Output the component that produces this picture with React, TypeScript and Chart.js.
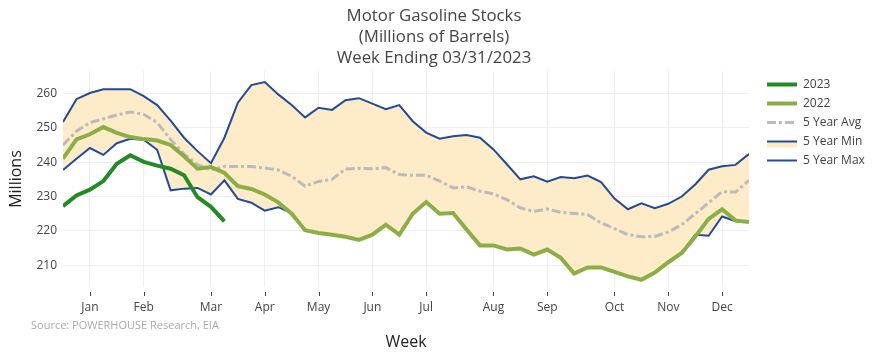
import React, { useEffect, useRef } from "react";
import { Chart, registerables } from "chart.js";
Chart.register(...registerables);

const weeks = [1,2,3,4,5,6,7,8,9,10,11,12,13,14,15,16,17,18,19,20,21,22,23,24,25,26,27,28,29,30,31,32,33,34,35,36,37,38,39,40,41,42,43,44,45,46,47,48,49,50,51,52];
const monthTickWeeks = [3,7,12,16,20,24,28,33,37,42,46,50];
const monthLabels = ["Jan","Feb","Mar","Apr","May","Jun","Jul","Aug","Sep","Oct","Nov","Dec"];
const yTicks = [210,220,230,240,250,260];

const stocks2023 = [227.2,230.3,232.0,234.5,239.5,242.0,240.1,239.0,238.1,236.2,229.8,227.0,222.8];
const stocks2022 = [241.0,246.6,248.1,250.2,248.5,247.3,246.7,246.3,245.0,241.7,238.1,238.6,236.9,233.0,232.2,230.6,228.3,225.0,220.2,219.4,218.9,218.3,217.4,218.9,221.8,218.9,225.0,228.4,225.0,225.2,220.4,215.8,215.8,214.6,214.9,213.1,214.6,212.2,207.6,209.4,209.4,208.1,206.8,205.8,207.9,210.9,213.6,218.3,223.5,226.3,223.0,222.6];
const avg5 = [245.0,249.0,251.5,252.6,253.7,254.6,253.9,251.5,246.6,242.4,239.3,237.7,238.8,238.7,238.7,238.3,237.7,235.9,233.0,234.4,235.0,238.0,238.2,238.1,238.4,236.4,236.2,236.2,234.5,232.5,232.8,231.6,230.8,229.1,226.7,225.7,226.4,225.4,225.1,224.8,222.3,220.7,218.9,218.3,218.4,219.7,221.8,225.0,228.2,231.4,231.3,234.7];
const min5 = [237.7,241.0,244.1,242.1,245.5,246.8,246.5,243.6,231.8,232.3,232.5,230.6,234.7,229.3,228.2,225.9,226.9,225.2,220.2,219.4,218.9,218.3,217.4,218.9,221.8,218.9,225.0,228.4,225.0,225.2,220.4,215.8,215.8,214.6,214.9,213.1,214.6,212.2,207.6,209.4,209.4,208.1,206.8,205.8,207.9,210.9,213.6,218.9,218.6,224.2,222.8,222.6];
const max5 = [251.7,258.3,260.1,261.2,261.2,261.2,259.2,256.6,252.1,247.1,243.2,239.7,247.1,257.3,262.4,263.3,259.7,256.6,253.0,255.8,255.2,258.0,258.6,257.0,255.4,256.6,251.9,248.6,246.8,247.5,247.9,247.1,243.7,239.4,235.0,235.9,234.3,235.7,235.3,236.1,234.2,229.4,226.3,228.0,226.6,227.9,230.0,233.5,237.8,238.8,239.2,242.4];

const titleLines = ["Motor Gasoline Stocks", "(Millions of Barrels)", "Week Ending 03/31/2023"];
const seriesNames = ["2023", "2022", "5 Year Avg", "5 Year Min", "5 Year Max"];

const C2023 = "#228B22";
const C2022 = "#8BAF45";
const CAVG = "#BBBBBB";
const CBLUE = "#224A9A";
const CFILL = "#FEEBC8";
const FONT = "'Open Sans', sans-serif";
const TXT = "#444444";

const pts = (vals: number[]) => vals.map((v, i) => ({ x: weeks[i], y: v }));

const decor = {
  id: "decor",
  afterDraw(chart: any) {
    const ctx = chart.ctx;
    const area = chart.chartArea;
    const xs = chart.scales.x;
    ctx.save();
    ctx.strokeStyle = TXT;
    ctx.lineWidth = 1;
    monthTickWeeks.forEach((w) => {
      const px = Math.round(xs.getPixelForValue(w)) + 0.5;
      ctx.beginPath();
      ctx.moveTo(px, 292);
      ctx.lineTo(px, 296);
      ctx.stroke();
    });
    ctx.fillStyle = TXT;
    ctx.font = `16.8px ${FONT}`;
    ctx.textAlign = "center";
    ctx.textBaseline = "middle";
    titleLines.forEach((t, k) => ctx.fillText(t, 434, 16 + k * 21));
    ctx.font = `16px ${FONT}`;
    ctx.fillStyle = "#222";
    ctx.fillText("Week", (area.left + area.right) / 2, 342);
    ctx.save();
    ctx.translate(16, (area.top + area.bottom) / 2);
    ctx.rotate(-Math.PI / 2);
    ctx.fillText("Millions", 0, 0);
    ctx.restore();
    ctx.fillStyle = "#AAAAAA";
    ctx.font = `11px ${FONT}`;
    ctx.textAlign = "left";
    ctx.fillText("Source: POWERHOUSE Research, EIA", 31, 326);
    const lx = 767, lw = 30, tx = 803;
    const rows = [84.5, 103.5, 122.5, 141.5, 160.5];
    ctx.font = `12px ${FONT}`;
    const styles = [
      { c: C2023, w: 4, d: [] as number[] },
      { c: C2022, w: 4, d: [] as number[] },
      { c: CAVG, w: 3, d: [9, 3, 3, 3] },
      { c: CBLUE, w: 2, d: [] as number[] },
      { c: CBLUE, w: 2, d: [] as number[] },
    ];
    rows.forEach((y, k) => {
      if (k === 3) {
        ctx.fillStyle = CFILL;
        ctx.fillRect(lx, y, lw, 6);
      }
      ctx.strokeStyle = styles[k].c;
      ctx.lineWidth = styles[k].w;
      ctx.setLineDash(styles[k].d);
      ctx.beginPath();
      ctx.moveTo(lx, y);
      ctx.lineTo(lx + lw, y);
      ctx.stroke();
      ctx.setLineDash([]);
      ctx.fillStyle = TXT;
      ctx.fillText(seriesNames[k], tx, y);
    });
    ctx.restore();
  },
};

export default function App() {
  const ref = useRef<HTMLCanvasElement>(null);
  useEffect(() => {
    document.body.style.margin = "0";
    const chart = new Chart(ref.current as HTMLCanvasElement, {
      type: "line",
      data: {
        datasets: [
          { label: seriesNames[0], data: pts(stocks2023), borderColor: C2023, borderWidth: 4, pointRadius: 0, tension: 0, fill: false },
          { label: seriesNames[1], data: pts(stocks2022), borderColor: C2022, borderWidth: 4, pointRadius: 0, tension: 0, fill: false },
          { label: seriesNames[2], data: pts(avg5), borderColor: CAVG, borderWidth: 3, borderDash: [9, 3, 3, 3], pointRadius: 0, tension: 0, fill: false },
          { label: seriesNames[3], data: pts(min5), borderColor: CBLUE, borderWidth: 2, pointRadius: 0, tension: 0, fill: "+1", backgroundColor: CFILL },
          { label: seriesNames[4], data: pts(max5), borderColor: CBLUE, borderWidth: 2, pointRadius: 0, tension: 0, fill: false },
        ],
      },
      options: {
        animation: false,
        responsive: false,
        layout: { padding: { top: 71, right: 124, left: 0, bottom: 0 } },
        plugins: {
          legend: { display: false },
          title: { display: false },
          tooltip: { enabled: false },
          filler: { drawTime: "beforeDatasetsDraw" },
        },
        scales: {
          x: {
            type: "linear",
            min: 1,
            max: 52,
            afterFit: (s: any) => { s.height = 75; },
            afterBuildTicks: (s: any) => { s.ticks = monthTickWeeks.map((v) => ({ value: v })); },
            grid: { color: "#EEEEEE", drawTicks: false },
            border: { display: false },
            ticks: {
              autoSkip: false,
              maxRotation: 0,
              padding: 13,
              color: TXT,
              font: { family: FONT, size: 12 },
              callback: (v: any) => monthLabels[monthTickWeeks.indexOf(Number(v))] ?? "",
            },
          },
          y: {
            type: "linear",
            min: 203.7,
            max: 266.5,
            afterFit: (s: any) => { s.width = 63; },
            afterBuildTicks: (s: any) => { s.ticks = yTicks.map((v) => ({ value: v })); },
            grid: { color: "#EEEEEE", drawTicks: false },
            border: { display: false },
            ticks: {
              padding: 6,
              color: TXT,
              font: { family: FONT, size: 12 },
            },
          },
        },
      },
      plugins: [decor],
    } as any);
    return () => chart.destroy();
  }, []);
  return (
    <div style={{ position: "absolute", left: 0, top: 0, width: 873, height: 362, background: "#fff" }}>
      <canvas ref={ref} width={873} height={362} />
    </div>
  );
}
